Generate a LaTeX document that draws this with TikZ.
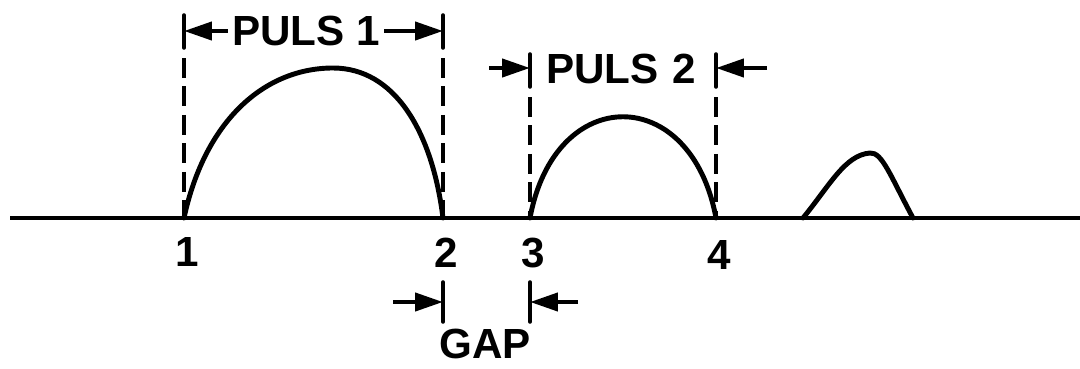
\documentclass[tikz,border=0pt]{standalone}
\usepackage{fontspec}
\setmainfont{Liberation Sans}
\usetikzlibrary{arrows.meta,calc}
\tikzset{
  pulse/.style={line width=2.8pt,line cap=round},
  baseline/.style={line width=2.4pt},
  guide/.style={line width=1.9pt,dash pattern=on 0.4cm off 0.17cm},
  guidebar/.style={line width=2pt,line cap=round},
  dim/.style={-{Triangle[length=5.6mm,width=3.6mm]},line width=2.4pt},
  lbl/.style={font=\fontsize{24}{26}\selectfont\bfseries,inner sep=0pt}
}
\begin{document}
\begin{tikzpicture}[x=0.02cm,y=-0.02cm]
  \useasboundingbox (0,0) rectangle (1080,369);

  % time axis
  \coordinate (ax0) at (10,218);
  \coordinate (ax1) at (1080,218);
  \draw[baseline] (ax0) -- (ax1);

  % pulses
  \draw[pulse] (184,218) .. controls (205,120) and (265,68) .. (333,68)
    .. controls (394,68) and (432,130) .. (443,218);
  \draw[pulse] (530,218) .. controls (555,83) and (691,83) .. (716,218);
  \draw[pulse] (803,218) .. controls (830,185) and (845,155) .. (870,153)
    .. controls (882,152) and (890,175) .. (913,218);

  % guide lines
  \coordinate (g1t) at (184,15);  \coordinate (g1b) at (184,218);
  \coordinate (g2t) at (443,15);  \coordinate (g2b) at (443,218);
  \coordinate (g3t) at (530,54);  \coordinate (g3b) at (530,218);
  \coordinate (g4t) at (716,54);  \coordinate (g4b) at (716,218);
  \foreach \g in {g1,g2,g3,g4} {
    \draw[guidebar] (\g t) -- ++(0,33);
    \draw[guide] ($(\g t)+(0,43)$) -- (\g b);
  }

  % pulse 1 label
  \node[lbl] (puls1) at (306,31) {PULS 1};
  \draw[dim] (puls1.west) ++(-4,0) -- (g1t |- puls1.west);
  \draw[dim] (puls1.east) ++(4,0) -- (g2t |- puls1.east);

  % pulse 2 label
  \node[lbl] (puls2) at (621,69) {PULS\,\,2};
  \coordinate (p2la) at (489,68);
  \coordinate (p2ra) at (767,68);
  \draw[dim] (p2la) -- (g3t |- p2la);
  \draw[dim] (p2ra) -- (g4t |- p2ra);

  % edge numbers
  \node[lbl] (n1) at (187,252) {1};
  \node[lbl] (n2) at (446,253) {2};
  \node[lbl] (n3) at (533,253) {3};
  \node[lbl] (n4) at (719,255) {4};

  % gap
  \coordinate (gapl) at (443,302);
  \coordinate (gapr) at (530,302);
  \coordinate (gapla) at (393,302);
  \coordinate (gapra) at (578,302);
  \draw[guidebar] (gapl) ++(0,-20) -- ++(0,40);
  \draw[guidebar] (gapr) ++(0,-20) -- ++(0,40);
  \draw[dim] (gapla) -- (gapl);
  \draw[dim] (gapra) -- (gapr);
  \node[lbl] (gap) at (485,344) {GAP};
\end{tikzpicture}
\end{document}
